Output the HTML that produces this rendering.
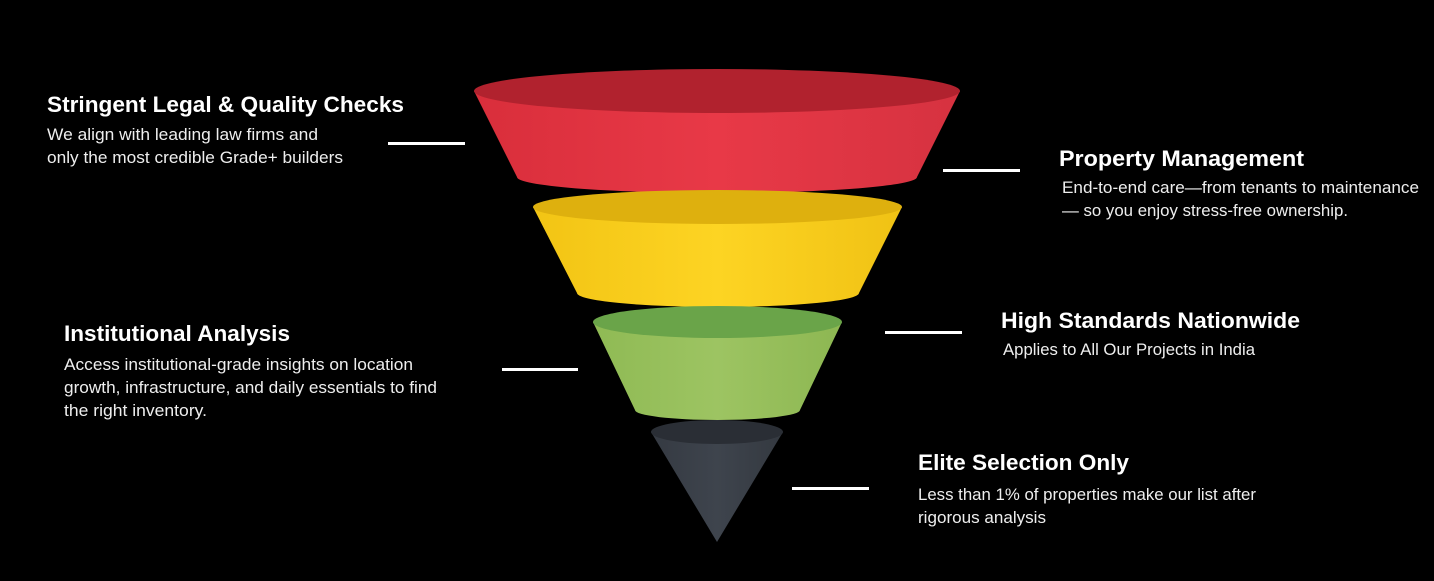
<!DOCTYPE html>
<html><head><meta charset="utf-8"><style>
html,body{margin:0;padding:0;background:#000;}
svg{display:block}
text{font-family:"Liberation Sans",sans-serif;fill:#fff}
.t{font-weight:bold;font-size:22px}
.d{font-size:16.5px;fill:#eee}
</style></head><body>
<svg width="1434" height="581" viewBox="0 0 1434 581" xmlns="http://www.w3.org/2000/svg">
<defs>
<linearGradient id="gr" x1="0" x2="1"><stop offset="0" stop-color="#d92e3b"/><stop offset="0.5" stop-color="#e83947"/><stop offset="1" stop-color="#d63240"/></linearGradient>
<linearGradient id="gy" x1="0" x2="1"><stop offset="0" stop-color="#f2c414"/><stop offset="0.5" stop-color="#fdd423"/><stop offset="1" stop-color="#f0c214"/></linearGradient>
<linearGradient id="gg" x1="0" x2="1"><stop offset="0" stop-color="#8fba54"/><stop offset="0.5" stop-color="#9dc462"/><stop offset="1" stop-color="#8db752"/></linearGradient>
<linearGradient id="gd" x1="0" x2="1"><stop offset="0" stop-color="#353a42"/><stop offset="0.5" stop-color="#3e444d"/><stop offset="1" stop-color="#343940"/></linearGradient>
</defs>
<rect width="1434" height="581" fill="#000"/>
<!-- red -->
<path d="M474 91 L517 177 A200 16 0 0 0 917 177 L960 91 Z" fill="url(#gr)"/>
<ellipse cx="717" cy="91" rx="243" ry="22" fill="#b1222e"/>
<!-- yellow -->
<path d="M533 207 L577 293 A141 14 0 0 0 859 293 L902 207 Z" fill="url(#gy)"/>
<ellipse cx="717.5" cy="207" rx="184.5" ry="17" fill="#deb00e"/>
<!-- green -->
<path d="M593 322 L635 410 A82.5 10 0 0 0 800 410 L842 322 Z" fill="url(#gg)"/>
<ellipse cx="717.5" cy="322" rx="124.5" ry="16" fill="#6aa449"/>
<!-- dark -->
<path d="M651 432 L717 542 L783 432 Z" fill="url(#gd)"/>
<ellipse cx="717" cy="432" rx="66" ry="12" fill="#2a2e35"/>
<!-- lines -->
<g fill="#fff">
<rect x="388" y="142" width="77" height="3"/>
<rect x="943" y="169" width="77" height="3"/>
<rect x="502" y="368" width="76" height="3"/>
<rect x="885" y="331" width="77" height="3"/>
<rect x="792" y="487" width="77" height="3"/>
</g>
<!-- texts -->
<text class="t" x="47" y="112" textLength="357" lengthAdjust="spacingAndGlyphs">Stringent Legal &amp; Quality Checks</text>
<text class="d" x="47" y="140" textLength="271" lengthAdjust="spacingAndGlyphs">We align with leading law firms and</text>
<text class="d" x="47" y="163" textLength="296" lengthAdjust="spacingAndGlyphs">only the most credible Grade+ builders</text>

<text class="t" x="1059" y="166" textLength="245" lengthAdjust="spacingAndGlyphs">Property Management</text>
<text class="d" x="1062" y="193" textLength="357" lengthAdjust="spacingAndGlyphs">End-to-end care—from tenants to maintenance</text>
<text class="d" x="1062" y="216" textLength="286" lengthAdjust="spacingAndGlyphs">— so you enjoy stress-free ownership.</text>

<text class="t" x="64" y="341" textLength="226" lengthAdjust="spacingAndGlyphs">Institutional Analysis</text>
<text class="d" x="64" y="370" textLength="349" lengthAdjust="spacingAndGlyphs">Access institutional-grade insights on location</text>
<text class="d" x="64" y="393" textLength="373" lengthAdjust="spacingAndGlyphs">growth, infrastructure, and daily essentials to find</text>
<text class="d" x="64" y="416" textLength="143" lengthAdjust="spacingAndGlyphs">the right inventory.</text>

<text class="t" x="1001" y="328" textLength="299" lengthAdjust="spacingAndGlyphs">High Standards Nationwide</text>
<text class="d" x="1003" y="355" textLength="252" lengthAdjust="spacingAndGlyphs">Applies to All Our Projects in India</text>

<text class="t" x="918" y="470" textLength="211" lengthAdjust="spacingAndGlyphs">Elite Selection Only</text>
<text class="d" x="918" y="500" textLength="338" lengthAdjust="spacingAndGlyphs">Less than 1% of properties make our list after</text>
<text class="d" x="918" y="523" textLength="128" lengthAdjust="spacingAndGlyphs">rigorous analysis</text>
</svg>
</body></html>
